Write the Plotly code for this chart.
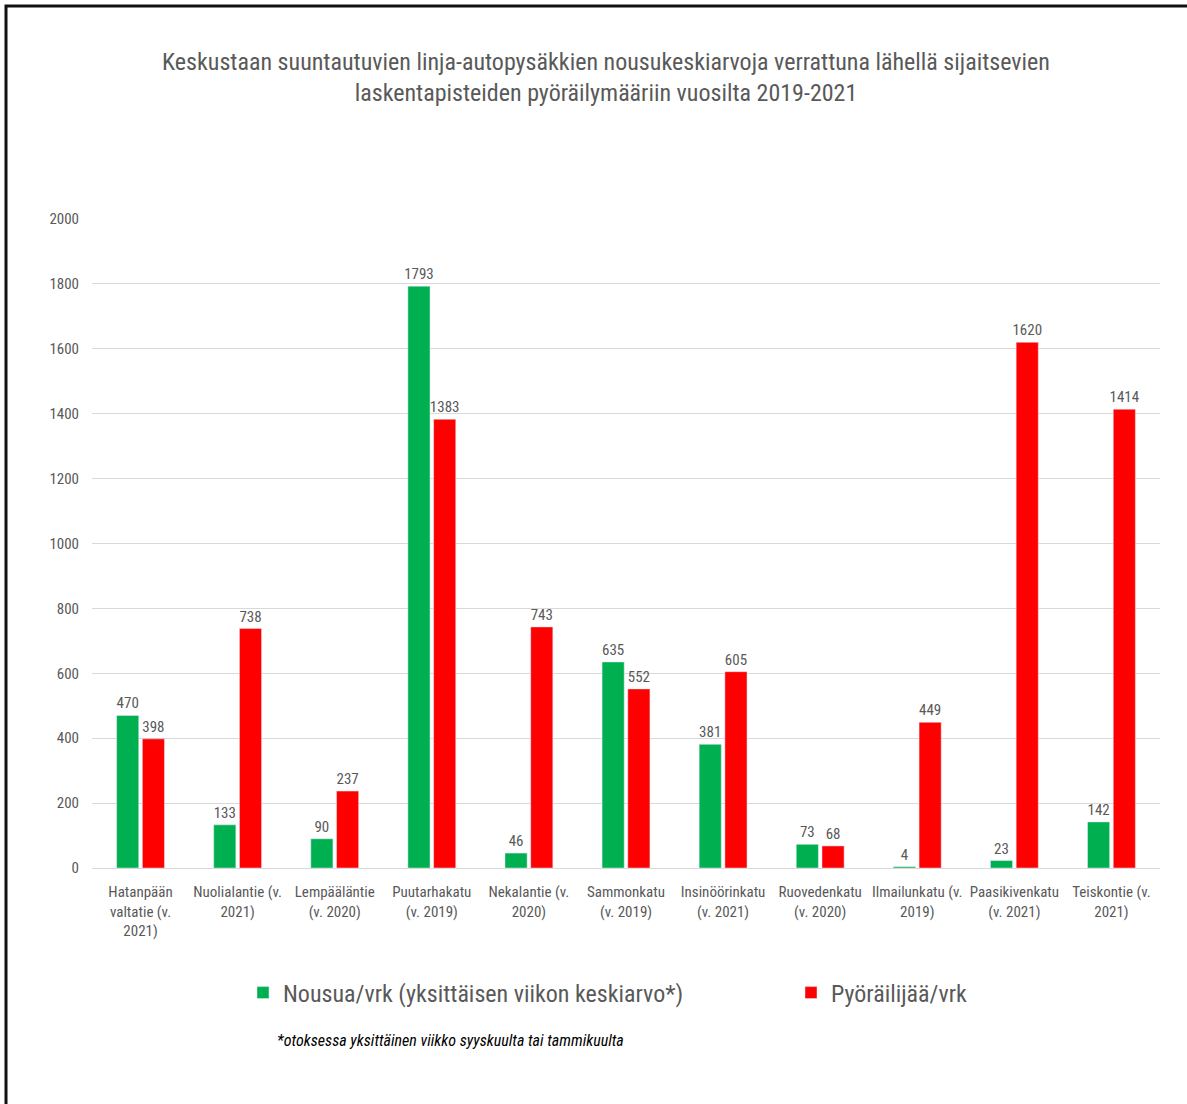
import plotly.graph_objects as go

categories = [
    "Hatanpään<br>valtatie (v.<br>2021)",
    "Nuolialantie (v.<br>2021)",
    "Lempääläntie<br>(v. 2020)",
    "Puutarhakatu<br>(v. 2019)",
    "Nekalantie (v.<br>2020)",
    "Sammonkatu<br>(v. 2019)",
    "Insinöörinkatu<br>(v. 2021)",
    "Ruovedenkatu<br>(v. 2020)",
    "Ilmailunkatu (v.<br>2019)",
    "Paasikivenkatu<br>(v. 2021)",
    "Teiskontie (v.<br>2021)",
]
nousua = [470, 133, 90, 1793, 46, 635, 381, 73, 4, 23, 142]
pyorailijat = [398, 738, 237, 1383, 743, 552, 605, 68, 449, 1620, 1414]

y_ticks = list(range(0, 2001, 200))

FONT = "Liberation Sans Narrow, Roboto Condensed, Open Sans, sans-serif"
GREY = "#595959"

W, H = 1187, 1104
L, R, T, B = 92, 27, 219, 236
plot_w = W - L - R
plot_h = H - T - B


def px_x(p):
    return (p - L) / plot_w


def px_y(p):
    return (H - B - p) / plot_h


label_font = dict(size=15, color=GREY, family=FONT)

fig = go.Figure()
fig.add_trace(go.Bar(
    x=categories, y=nousua, name="Nousua/vrk (yksittäisen viikon keskiarvo*)",
    marker=dict(color="#00B050"),
    texttemplate="%{y}", textposition="outside", cliponaxis=False,
    constraintext="none", textfont=label_font,
    legend="legend",
))
fig.add_trace(go.Bar(
    x=categories, y=pyorailijat, name="Pyöräilijää/vrk",
    marker=dict(color="#FF0000"),
    texttemplate="%{y}", textposition="outside", cliponaxis=False,
    constraintext="none", textfont=label_font,
    legend="legend2",
))

legend_common = dict(
    orientation="h", xanchor="left",
    y=px_y(993), yanchor="middle",
    font=dict(size=24, color=GREY, family=FONT),
    itemwidth=30,
)

fig.update_layout(
    width=W, height=H,
    margin=dict(l=L, r=R, t=T, b=B),
    paper_bgcolor="white", plot_bgcolor="white",
    barmode="group", bargap=0.47, bargroupgap=0.14,
    font=dict(family=FONT, color=GREY, size=15),
    title=dict(
        text="Keskustaan suuntautuvien linja-autopysäkkien nousukeskiarvoja verrattuna lähellä sijaitsevien<br>laskentapisteiden pyöräilymääriin vuosilta 2019-2021",
        x=px_x(606), xanchor="center", xref="paper",
        y=1 - 70 / H, yanchor="middle",
        font=dict(size=24, color=GREY, family=FONT),
    ),
    xaxis=dict(
        tickfont=dict(size=15, color=GREY, family=FONT),
        showline=True, linecolor="#D9D9D9", linewidth=1,
        ticks="", ticklabelstandoff=10,
    ),
    yaxis=dict(
        range=[0, 2000], tickvals=y_ticks,
        showgrid=True, gridcolor="#D9D9D9", gridwidth=1,
        zeroline=False, showline=False, ticks="",
        tickfont=dict(size=15, color=GREY, family=FONT),
        ticklabelstandoff=12,
    ),
    legend=dict(x=px_x(243), **legend_common),
    legend2=dict(x=px_x(791), **legend_common),
    showlegend=True,
)

fig.add_annotation(
    text="<i>*otoksessa yksittäinen viikko syyskuulta tai tammikuulta</i>",
    xref="paper", yref="paper", x=px_x(275), y=px_y(1040),
    xanchor="left", yanchor="middle", showarrow=False,
    font=dict(size=16, color="black", family=FONT),
)

# frame around the figure
fig.add_shape(
    type="path", xref="paper", yref="paper",
    path=f"M {px_x(6)},{px_y(H + 10)} L {px_x(6)},{px_y(6)} L {px_x(W + 10)},{px_y(6)}",
    line=dict(color="#111111", width=3),
)

fig.write_html("out.html")
